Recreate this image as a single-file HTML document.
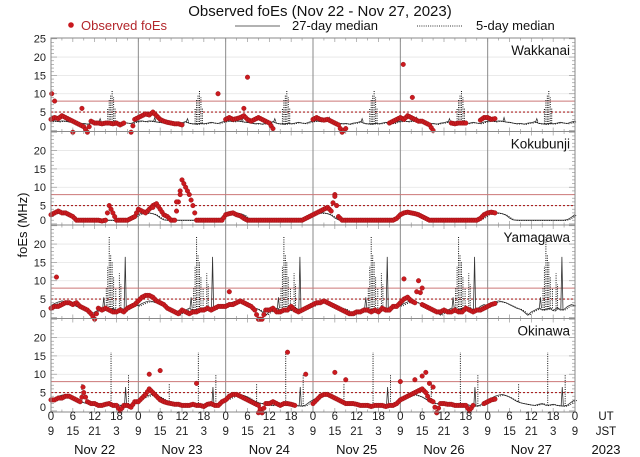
<!DOCTYPE html>
<html><head><meta charset="utf-8"><title>Observed foEs</title>
<style>
html,body{margin:0;padding:0;background:#fff;}
svg{display:block;font-family:"Liberation Sans",sans-serif;}
</style></head>
<body>
<svg id="chart" width="640" height="457" viewBox="0 0 640 457">
<text x="320" y="16" font-size="15" text-anchor="middle" fill="#111">Observed foEs (Nov 22 - Nov 27, 2023)</text>
<g>
 <circle cx="71" cy="25" r="2.8" fill="#c8181e"/>
 <text x="81" y="30" font-size="13" fill="#b3262b">Observed foEs</text>
 <line x1="235" y1="26" x2="280" y2="26" stroke="#333" stroke-width="0.8"/>
 <text x="292" y="30" font-size="13" fill="#111">27-day median</text>
 <line x1="417" y1="26" x2="462" y2="26" stroke="#333" stroke-width="0.9" stroke-dasharray="1,1.2"/>
 <text x="476" y="30" font-size="13" fill="#111">5-day median</text>
</g>
<text transform="translate(27,225) rotate(-90)" font-size="13" text-anchor="middle" fill="#111">foEs (MHz)</text>
<g id="panels"></g>
<g id="xaxis"></g>
</svg>
<script>
// ---------- data ----------
const stations = ["Wakkanai","Kokubunji","Yamagawa","Okinawa"];
const dayLabels = ["Nov 22","Nov 23","Nov 24","Nov 25","Nov 26","Nov 27"];
const utTicks = ["0","6","12","18","0","6","12","18","0","6","12","18","0","6","12","18","0","6","12","18","0","6","12","18","0"];
const jstTicks = ["9","15","21","3","9","15","21","3","9","15","21","3","9","15","21","3","9","15","21","3","9","15","21","3","9"];
const yTicks = [0,5,10,15,20,25];
const redSolidLevel = 8;
const redDottedLevel = 5;
// 27-day median daily profile (UT hour 0..23)
const med27Wakkanai = [2.5,2.6,2.4,2.6,2.5,2.3,2.2,2.0,1.8,1.9,1.7,2.0,2.1,2.4,1.9,1.8,1.7,1.9,1.8,2.0,2.2,2.0,1.9,2.3];
const med27Kokubunji = [2.6,2.9,3.0,3.0,2.8,2.4,1.6,1.1,1.0,1.0,1.0,1.0,1.0,1.0,1.0,1.0,1.0,1.0,1.0,1.0,1.0,1.0,1.2,1.8];
const med27Yamagawa = [3.2,3.8,4.2,4.5,4.3,4.0,3.5,3.0,2.5,2.2,1.5,0.6,1.5,2.0,2.5,2.0,2.2,2.5,1.8,2.6,2.0,2.2,3.0,3.5];
const med27Okinawa = [3.0,3.5,4.0,4.3,4.5,4.2,3.8,3.2,2.6,2.2,2.0,1.8,1.6,1.5,1.8,2.0,1.5,1.6,1.8,1.5,1.4,1.3,1.6,2.4];
// 5-day median spikes: [UT hour, value]
const spike5Wakkanai = [[15.6,6],[16.0,8.5],[16.4,9.5],[16.8,11],[17.2,9],[17.6,6]];
const spike5Kokubunji = [];
const spike5Yamagawa = [[15.2,8],[15.6,14],[16.0,22],[16.4,17],[16.8,15],[17.2,11],[17.8,8],[18.8,12],[19.2,9]];
const spike5Okinawa = [[8.5,7.5],[16.5,16],[21.3,10]];
// 27-day median spikes (solid): [UT hour, value]
const spike27Wakkanai = [[4.5,3.5],[13.5,3.2]];
const spike27Kokubunji = [];
const spike27Yamagawa = [[20.4,16.5],[14.5,5.5]];
const spike27Okinawa = [[20.5,6.5]];
// observed foEs, hourly from Nov 22 00UT (null = no data)
const obsWakkanai = [
 3,3.5,3.2,4,3.5,3,2.5,2,1.5,1,-0.5,2.5,2,2,1.8,2,2,1.8,2,1.5,2,null,-0.5,3,
 3.5,4,4.5,4.2,5,4,3,2.5,2.2,2,1.8,1.8,1.5,null,null,null,null,null,null,null,null,null,null,null,
 3,3.5,3,3.2,3.5,4,3,2.5,3,3.5,3,2.5,2,0.5,null,null,null,null,null,null,null,null,null,null,
 3,3.5,3,2.8,3,2.5,2,1.5,-0.5,0.5,null,null,null,null,null,null,null,null,null,null,null,2,2.5,3,
 3.5,3,4,3.5,3,2.5,2.5,2,1.5,0,null,null,null,null,2,1.8,2,2,2,null,null,null,2.8,3.5,
 3.5,3,3.2];
const obsKokubunji = [
 2.5,3,3.5,3,3,2.5,2,1,1,1,1,1,1,1,0.8,1,5,3,1,1,1,1,1.5,2,
 4,3.5,3,4,5,5.5,4,2.5,2,1,1,6,12,10,8,5,1,1,1,1,1,1,1,1,
 2.5,2.8,3,2.5,2.2,1.5,1,1,1,1,1,1,1,1,1,1,1,1,1,1,1,1,1.5,2,
 2.5,3,3.5,4,4.5,3.5,8,2,1,1,1,1,1,1,1,1,1,1,1,1,1,1,1,1.5,
 2.5,3,3.2,3,2.8,2.5,2,1.5,1,1,1,1,1,1,1,1,1,1,1,1,1,1,1.5,2.5,
 3,3.2,3];
const obsYamagawa = [
 2.5,3,3,3.5,4,4,3.5,4,3,2.5,2,1,-0.5,2.5,2,2.5,2,1.5,1.5,2,1.5,2.5,3,3.5,
 4.5,5.5,6,6,5.5,4.5,4,3.5,2.5,2,1.5,1,2,1.5,1,1.5,1.5,2,2,2.5,2,2.5,3,3,
 3,3.5,3.5,4,4.5,4,3.5,3,2,-0.5,-0.5,2,2,2.5,1.5,1.5,2,2,3,2,1.5,2,2.5,3,
 3.5,4,4,4.5,4,3.5,3,2.5,2,1.5,1,1,1.5,1.5,2,2,1.5,2,1.5,2.5,2,2,3,3,
 4,5,5.5,4.5,4,10,3.5,3,2.5,2,1.5,1.5,2,1.5,1.5,2,1.5,1.5,2.5,2,1.5,2,2,2.5,
 3,3.5,3.8];
const obsOkinawa = [
 3,3,3.5,3.5,4,4,3.5,3,2.5,5,2.5,2,2,1.5,1.5,1.8,2,1.5,1.5,0,1.5,1.5,1,2.5,
 2.5,3.5,4.5,6,5,4,3,2.5,2.2,2,1.8,1.8,1.5,1.5,1.5,1.8,1.5,1.5,1.2,1.8,2,1.5,1.5,2.5,
 3,4,4.5,4.5,4,3.5,3,2.5,2,1.5,-0.5,2,2,2.5,2,1.5,2,2,1.8,1.5,null,null,null,null,
 2,3,4,4.5,4.5,4,3.5,3,2.5,2,2,2,1.8,1.5,1.5,1.5,1.2,1.5,1.5,1.5,1.2,1.5,1.5,2,
 3,3.5,4,4.5,5,5.5,6,5,3,2.5,-0.5,2,2,1.8,1.8,1.5,1.5,1.5,1.5,0,1.5,null,null,2,
 2.5,3,3.2];
// outlying observations: [hour index from Nov 22 00UT, value]
const outWakkanai = [[0.2,10],[1,8],[8.5,6],[45.9,10],[54,14.5],[53,6],[96.8,18],[99.3,9],[6,-0.5]];
const outKokubunji = [[35.5,8],[34.5,6],[28,4.5],[78,7.5]];
const outYamagawa = [[1.5,11],[49,7],[102,8],[97,10.5]];
const outOkinawa = [[8.8,6.5],[27,10],[30,11],[40,7.5],[65,16],[70,10],[78,10.5],[81,8.5],[96,8],[100,8.5],[102,9.5],[103,10.5],[104,7.5],[105,6.5],[57,-0.5],[58,-0.5],[106,-0.5]];

const med27 = [med27Wakkanai,med27Kokubunji,med27Yamagawa,med27Okinawa];
const spike5 = [spike5Wakkanai,spike5Kokubunji,spike5Yamagawa,spike5Okinawa];
const spike27 = [spike27Wakkanai,spike27Kokubunji,spike27Yamagawa,spike27Okinawa];
const obs = [obsWakkanai,obsKokubunji,obsYamagawa,obsOkinawa];
const outs = [outWakkanai,outKokubunji,outYamagawa,outOkinawa];

// ---------- layout ----------
const NS = "http://www.w3.org/2000/svg";
const X0 = 51, X1 = 575, HOURS = 144;
const PTOP = 38, PH = 93.5, YMIN = -0.3, YMAX = 25.2;
const xs = h => X0 + h / HOURS * (X1 - X0);
const ys = (v, p) => PTOP + p * PH + (YMAX - v) / (YMAX - YMIN) * PH;
function mk(tag, attrs, parent) {
  const e = document.createElementNS(NS, tag);
  for (const k in attrs) e.setAttribute(k, attrs[k]);
  parent.appendChild(e);
  return e;
}
const panels = document.getElementById("panels");
stations.forEach((st, p) => {
  const g = mk("g", {}, panels);
  
  
  const top = PTOP + p * PH;
  // grid
  [5,10,15,20].forEach(v => {
    const l = mk("line", {x1:X0, x2:X1, y1:ys(v,p), y2:ys(v,p), stroke:"#e4e4e4", "stroke-width":0.8}, g);
    
    
  });
  // minor ticks left/right
  for (let v = 0; v <= 25; v++) {
    if (ys(v,p) < top + 0.5) continue;
    const len = v % 5 === 0 ? 6 : 3;
    const a = mk("line", {x1:X0, x2:X0+len, y1:ys(v,p), y2:ys(v,p), stroke:"#999", "stroke-width":0.7}, g);
    
    
    const b = mk("line", {x1:X1-len, x2:X1, y1:ys(v,p), y2:ys(v,p), stroke:"#999", "stroke-width":0.7}, g);
    
    
  }
  // x ticks top/bottom every 3h
  for (let h = 0; h <= HOURS; h += 3) {
    const len = h % 6 === 0 ? 4 : 2.5;
    const a = mk("line", {x1:xs(h), x2:xs(h), y1:top, y2:top+len, stroke:"#999", "stroke-width":0.7}, g);
    
    
    const b = mk("line", {x1:xs(h), x2:xs(h), y1:top+PH-len, y2:top+PH, stroke:"#999", "stroke-width":0.7}, g);
    
    
  }
  // day separators
  for (let d = 1; d < 6; d++) {
    const l = mk("line", {x1:xs(d*24), x2:xs(d*24), y1:top, y2:top+PH, stroke:"#8a8a8a", "stroke-width":1}, g);
    
    
  }
  // threshold lines
  const rs = mk("line", {x1:X0, x2:X1, y1:ys(redSolidLevel,p), y2:ys(redSolidLevel,p), stroke:"#c77", "stroke-width":1}, g);
  
  
  const rd = mk("line", {x1:X0, x2:X1, y1:ys(redDottedLevel,p), y2:ys(redDottedLevel,p), stroke:"#a22", "stroke-width":1.2, "stroke-dasharray":"2,2"}, g);
  
  
  // y labels
  yTicks.forEach(v => {
    if (v === 25 && p > 0) return;
    const t = mk("text", {x:46, y:ys(v,p) + (v === 0 ? 0 : 4), "font-size":11, "text-anchor":"end", fill:"#222"}, g);
    t.textContent = v;
    
    
  });
  // 27-day median line
  let d27 = "";
  for (let h = 0; h <= HOURS; h++) d27 += (h ? "L" : "M") + xs(h).toFixed(1) + "," + ys(med27[p][h % 24], p).toFixed(1);
  const m27 = mk("path", {d:d27, fill:"none", stroke:"#333", "stroke-width":0.8}, g);
  
  
  // 5-day median (dotted, follows 27-day profile shifted slightly)
  let d5 = "";
  for (let h = 0; h <= HOURS; h++) d5 += (h ? "L" : "M") + xs(h + 0.5).toFixed(1) + "," + ys(med27[p][h % 24] * 0.95, p).toFixed(1);
  const m5 = mk("path", {d:d5, fill:"none", stroke:"#111", "stroke-width":0.9, "stroke-dasharray":"1,1.3"}, g);
  
  
  for (let d = 0; d < 6; d++) {
    spike5[p].forEach(([h, v]) => {
      const base = med27[p][Math.floor(h) % 24];
      const l = mk("line", {x1:xs(d*24+h), x2:xs(d*24+h), y1:ys(base,p), y2:ys(v,p), stroke:"#111", "stroke-width":1, "stroke-dasharray":"1,1.3"}, g);
      
      
    });
    spike27[p].forEach(([h, v]) => {
      const base = med27[p][Math.floor(h) % 24];
      const l = mk("path", {d:`M${xs(d*24+h-0.3)},${ys(base,p)}L${xs(d*24+h)},${ys(v,p)}L${xs(d*24+h+0.3)},${ys(base,p)}`, fill:"none", stroke:"#333", "stroke-width":0.8}, g);
      
      
    });
  }
  // observed points
  obs[p].forEach((v, i) => {
    if (v === null) return;
    [0, 0.5].forEach(off => {
      const nv = obs[p][i + 1];
      const val = off && nv !== null && nv !== undefined ? (v + nv) / 2 : v;
      if (off && (nv === null || nv === undefined)) return;
      const c = mk("circle", {cx:xs(i + off), cy:ys(val,p), r:2.3, fill:"#cc1a1f", stroke:"#8c1014", "stroke-width":0.4}, g);
      
      
    });
  });
  outs[p].forEach(([h, v]) => {
    const c = mk("circle", {cx:xs(h), cy:ys(v,p), r:2.3, fill:"#cc1a1f", stroke:"#8c1014", "stroke-width":0.4}, g);
    
    
  });
  // frame
  const fr = mk("rect", {x:X0, y:top, width:X1-X0, height:PH, fill:"none", stroke:"#8a8a8a", "stroke-width":1}, g);
  
  
  const lb = mk("text", {x:570, y:top+17, "font-size":13.5, "text-anchor":"end", fill:"#111"}, g);
  lb.textContent = st;
  
  
});
// x axis labels
const xa = document.getElementById("xaxis");
utTicks.forEach((t, i) => {
  const a = mk("text", {x:xs(i*6), y:420, "font-size":11.5, "text-anchor":"middle", fill:"#222"}, xa);
  a.textContent = t;
  
  
  const b = mk("text", {x:xs(i*6), y:435, "font-size":11.5, "text-anchor":"middle", fill:"#222"}, xa);
  b.textContent = jstTicks[i];
  
  
});
dayLabels.forEach((t, i) => {
  const a = mk("text", {x:xs(i*24+12), y:454, "font-size":13, "text-anchor":"middle", fill:"#111"}, xa);
  a.textContent = t;
  
  
});
[["UT",420,11.5,'ut-label'],["JST",435,11.5,'jst-label'],["2023",454,13,'year-label']].forEach(([t,y,fs,n]) => {
  const a = mk("text", {x:606, y:y, "font-size":fs, "text-anchor":"middle", fill:"#111"}, xa);
  a.textContent = t;
  
  
});
</script>
</body></html>
